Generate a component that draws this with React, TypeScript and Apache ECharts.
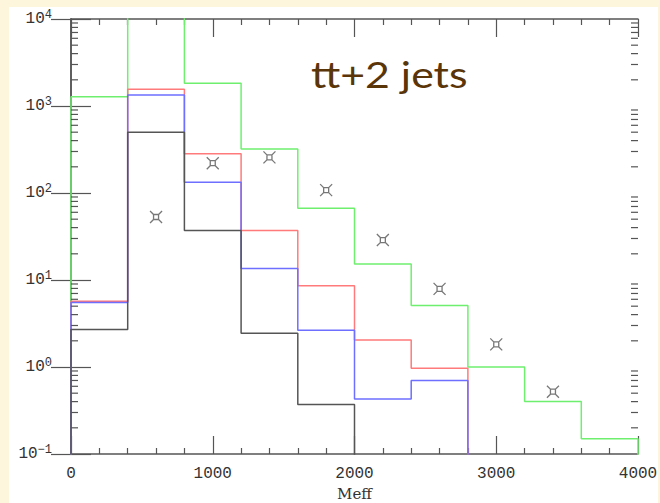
import React, { useEffect, useRef } from "react";
import * as echarts from "echarts";

// ---- data ----
const binEdges = [0, 400, 800, 1200, 1600, 2000, 2400, 2800, 3200, 3600, 4000];
const greenValues = [1280, 30000, 1820, 320, 67, 15.3, 5.1, 1.0, 0.4, 0.15];
const redValues = [5.7, 1560, 283, 37, 8.6, 2.05, 0.97, 0, 0, 0];
const blueValues = [5.5, 1340, 133, 13.6, 2.65, 0.43, 0.7, 0, 0, 0];
const blackValues = [2.7, 500, 37, 2.45, 0.37, 0, 0, 0, 0, 0];
const starX = [600, 1000, 1400, 1800, 2200, 2600, 3000, 3400];
const starY = [53, 220, 257, 108, 28.8, 7.9, 1.82, 0.52];
const xTickLabels = ["0", "1000", "2000", "3000", "4000"];
const yDecades = [-1, 0, 1, 2, 3, 4];
const minorMultipliers = [2, 3, 4, 5, 6, 7, 8, 9];
const titleText = "tt+2 jets";
const xName = "Meff";

const FLOOR = 1e-3;
const AXIS_COLOR = "#555";
const LABEL_FONT = "Liberation Mono";

function stepPoints(values: number[]) {
  const pts: [number, number][] = [[binEdges[0], FLOOR]];
  values.forEach((v, i) => {
    const y = v > 0 ? v : FLOOR;
    pts.push([binEdges[i], y], [binEdges[i + 1], y]);
  });
  pts.push([binEdges[binEdges.length - 1], FLOOR]);
  return pts;
}

const minorTickValues: number[][] = [];
yDecades.slice(0, -1).forEach((d) => {
  minorMultipliers.forEach((m) => minorTickValues.push([0, m * Math.pow(10, d)]));
});

const STAR_PATH =
  "path://M0,0 L3.5,3.5 L8.5,3.5 L12,0 M8.5,3.5 L8.5,8.5 L12,12 M8.5,8.5 L3.5,8.5 L0,12 M3.5,8.5 L3.5,3.5";

export default function App() {
  const ref = useRef<HTMLDivElement>(null);
  useEffect(() => {
    if (!ref.current) return;
    const chart = echarts.init(ref.current, undefined, { renderer: "svg" });
    const xMin = binEdges[0];
    const xMax = binEdges[binEdges.length - 1];
    const yMin = Math.pow(10, yDecades[0]);
    const yMax = Math.pow(10, yDecades[yDecades.length - 1]);
    const lineSeries = (name: string, values: number[], color: string) => ({
      type: "line",
      name,
      data: stepPoints(values),
      showSymbol: false,
      symbol: "none",
      clip: true,
      lineStyle: { color, width: 1.5 },
      z: 3,
    });
    const xAxisCommon = {
      type: "value",
      min: xMin,
      max: xMax,
      interval: 1000,
      splitLine: { show: false },
      axisLine: { show: true, onZero: false, lineStyle: { color: AXIS_COLOR, width: 1.5 } },
      axisTick: { show: true, inside: true, length: 18, lineStyle: { color: AXIS_COLOR, width: 1.2 } },
      minorTick: { show: true, splitNumber: 5, length: 6, lineStyle: { color: AXIS_COLOR, width: 1.2 } },
      minorSplitLine: { show: false },
    };
    const yAxisCommon = {
      type: "log",
      logBase: 10,
      min: yMin,
      max: yMax,
      splitLine: { show: false },
      axisLine: { show: true, lineStyle: { color: AXIS_COLOR, width: 1.5 } },
      axisTick: { show: true, inside: true, length: 20, lineStyle: { color: AXIS_COLOR, width: 1.2 } },
      minorTick: { show: false },
    };
    chart.setOption({
      animation: false,
      backgroundColor: "transparent",
      grid: { left: 71, top: 19, right: 22, bottom: 49, containLabel: false, outerBoundsMode: "none" },
      xAxis: [
        {
          ...xAxisCommon,
          position: "bottom",
          name: xName,
          nameLocation: "middle",
          nameGap: 32,
          nameTextStyle: { fontFamily: "DejaVu Serif", fontSize: 15, color: "#333", verticalAlign: "top" },
          axisLabel: {
            margin: 12,
            fontFamily: LABEL_FONT,
            fontSize: 16,
            color: "#333",
            formatter: (v: number) => xTickLabels[Math.round(v / 1000)] ?? String(v),
          },
        },
        { ...xAxisCommon, position: "top", axisLabel: { show: false } },
      ],
      yAxis: [
        {
          ...yAxisCommon,
          position: "left",
          axisLabel: {
            margin: 19,
            formatter: (v: number) => {
              const e = Math.round(Math.log10(v));
              return `{b|10}{s|${e < 0 ? "\u2212" + -e : e}}`;
            },
            rich: {
              b: { fontFamily: LABEL_FONT, fontSize: 16, color: "#333" },
              s: { fontFamily: LABEL_FONT, fontSize: 12, color: "#333", padding: [0, 0, 8, 0] },
            },
          },
        },
        { ...yAxisCommon, position: "right", axisLabel: { show: false } },
      ],
      graphic: [
        {
          type: "text",
          x: 311,
          y: 56,
          scaleX: 1.19,
          style: { text: titleText, font: "36px Lato", fill: "#5a3508" },
          z: 10,
        },
      ],
      series: [
        lineSeries("green", greenValues, "#6ef06e"),
        lineSeries("red", redValues, "#ff7a7a"),
        lineSeries("blue", blueValues, "#6e6eff"),
        lineSeries("black", blackValues, "#555555"),
        {
          type: "scatter",
          name: "data",
          data: starX.map((x, i) => [x, starY[i]]),
          symbol: STAR_PATH,
          symbolSize: 12,
          itemStyle: { color: "transparent", borderColor: "#555", borderWidth: 1.3 },
          z: 4,
        },
        {
          type: "custom",
          name: "minorTicks",
          silent: true,
          data: minorTickValues,
          encode: { x: 0, y: 1 },
          z: 5,
          renderItem: (params: any, api: any) => {
            const v = api.value(1);
            const l = api.coord([xMin, v]);
            const r = api.coord([xMax, v]);
            const st = { stroke: AXIS_COLOR, lineWidth: 1.2 };
            return {
              type: "group",
              children: [
                { type: "line", shape: { x1: l[0], y1: l[1], x2: l[0] + 7, y2: l[1] }, style: st },
                { type: "line", shape: { x1: r[0] - 7, y1: r[1], x2: r[0], y2: r[1] }, style: st },
              ],
            };
          },
        },
      ],
    });
    return () => chart.dispose();
  }, []);
  return (
    <div style={{ position: "fixed", left: 0, top: 0, width: 660, height: 503, background: "#fdf6dc" }}>
      <div style={{ position: "absolute", left: 9, top: 7, width: 649, height: 496, background: "#ffffff" }} />
      <div ref={ref} style={{ position: "absolute", left: 0, top: 0, width: 660, height: 503 }} />
    </div>
  );
}
